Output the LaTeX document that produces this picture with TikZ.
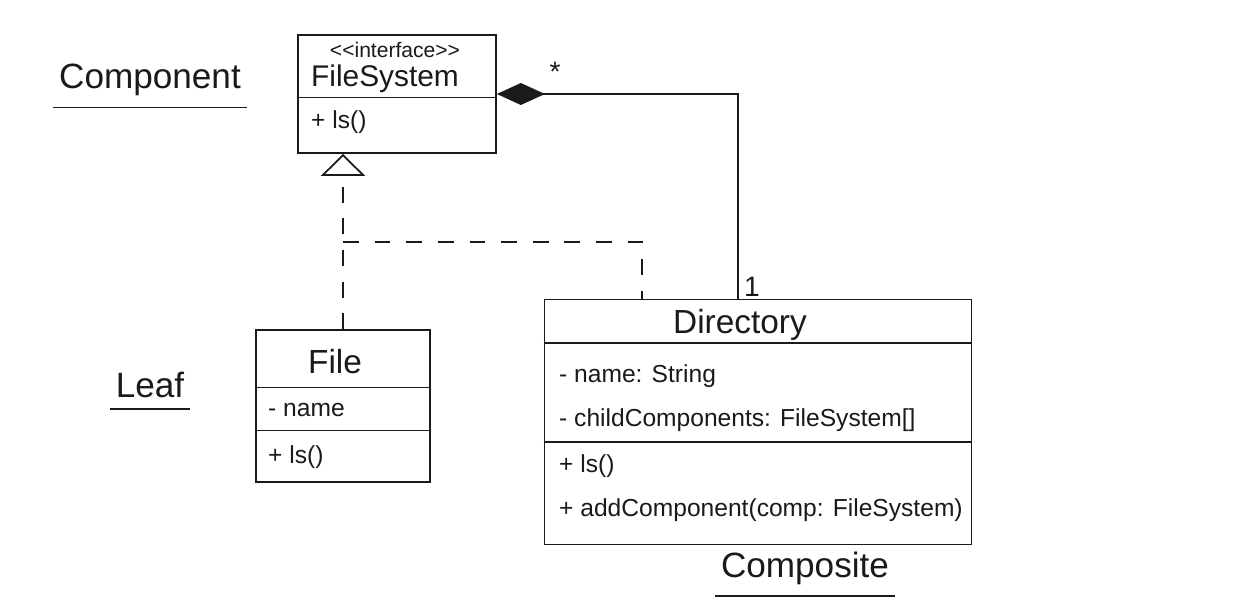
\documentclass[tikz,border=0pt]{standalone}
\usepackage{fontspec}
\setmainfont{Liberation Sans}
\usetikzlibrary{calc,arrows.meta}
\definecolor{ink}{HTML}{1A1A1A}
\tikzset{
  line/.style={draw=ink, line width=1pt},
  dashedline/.style={draw=ink, line width=1pt, dash pattern=on 9pt off 9pt},
  classbox/.style={draw=ink, line width=1pt, inner sep=0pt},
  title/.style={text=ink, font=\fontsize{19}{23}\selectfont},
  member/.style={text=ink, font=\fontsize{14}{17}\selectfont, anchor=west},
  stereo/.style={text=ink, font=\fontsize{12}{14}\selectfont},
  lbl/.style={text=ink, font=\fontsize{20}{24}\selectfont},
  mult/.style={text=ink, font=\fontsize{16}{19}\selectfont}
}

\begin{document}
\begin{tikzpicture}[x=0.02cm, y=-0.02cm]
  \useasboundingbox (0,0) rectangle (1238,605);

  % class boxes
  \node[classbox, minimum width=3.96cm, minimum height=2.36cm] (fs) at (397,94) {};
  \node[classbox, minimum width=3.48cm, minimum height=3.04cm] (file) at (343,406) {};
  \node[classbox, minimum width=8.54cm, minimum height=4.9cm] (dir) at (758,422) {};

  % compartments
  \draw[line] ($(fs.north west)!0.53!(fs.south west)$) -- ($(fs.north east)!0.53!(fs.south east)$);
  \draw[line] ($(file.north west)!0.38!(file.south west)$) -- ($(file.north east)!0.38!(file.south east)$);
  \draw[line] ($(file.north west)!0.66!(file.south west)$) -- ($(file.north east)!0.66!(file.south east)$);
  \draw[line] ($(dir.north west)!0.18!(dir.south west)$) -- ($(dir.north east)!0.18!(dir.south east)$);
  \draw[line] ($(dir.north west)!0.58!(dir.south west)$) -- ($(dir.north east)!0.58!(dir.south east)$);

  % FileSystem
  \node[stereo] (fsst) at (395,50) {{<}{<}interface{>}{>}};
  \node[title, font=\fontsize{17}{20}\selectfont] (fsname) at (385,79) {FileSystem};
  \node[member] (fsls) at (305,122) {+ ls()};

  % File
  \node[title] (filename) at (335,362) {File};
  \node[member] (filenm) at (262,410) {- name};
  \node[member] (filels) at (262,457) {+ ls()};

  % Directory
  \node[title] (dirname) at (740,325) {Directory};
  \node[member] (dirnm) at (553,376) {- name: String};
  \node[member] (dirch) at (553,420) {- childComponents: FileSystem[]};
  \node[member] (dirls) at (553,466) {+ ls()};
  \node[member] (diradd) at (553,510) {+ addComponent(comp: FileSystem)};

  % realization
  \coordinate (join) at (343,242);
  \coordinate (drop) at (642,242);
  \draw[dashedline, -{Triangle[open, length=0.44cm, width=0.88cm]}] (file.north) -- (file.north |- fs.south);
  \draw[dashedline] (join) -- (drop) -- (drop |- dir.north);

  % composition
  \coordinate (bend) at (738,85);
  \draw[line, -{Diamond[length=0.96cm, width=0.44cm, fill=ink]}] (dir.north -| bend) |- (fs.east);
  \node[mult] (many) at (555,72) {*};
  \node[mult] (one) at (752,287) {1};

  % roles
  \node[lbl] (comp) at (150,80) {Component};
  \node[lbl] (leaf) at (150,385) {Leaf};
  \node[lbl] (cmps) at (805,568) {Composite};
  \draw[line] ([yshift=-3pt]comp.south west) -- ([yshift=-3pt]comp.south east);
  \draw[line] ([yshift=-3pt]leaf.south west) -- ([yshift=-3pt]leaf.south east);
  \draw[line] ([yshift=-3pt]cmps.south west) -- ([yshift=-3pt]cmps.south east);
\end{tikzpicture}
\end{document}
